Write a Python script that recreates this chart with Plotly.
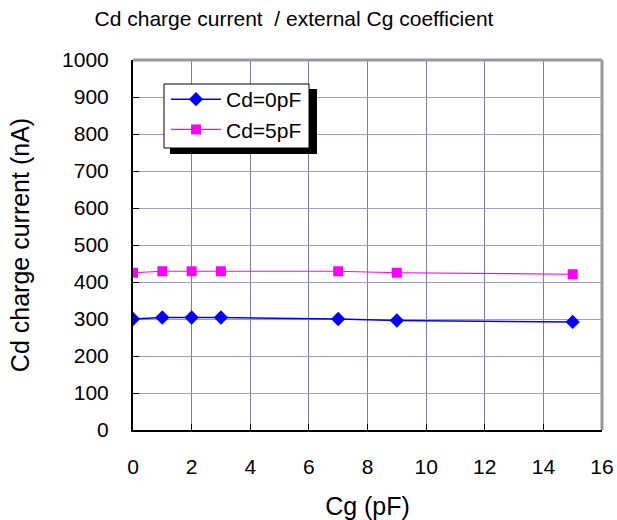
import plotly.graph_objects as go

cg = [0, 1, 2, 3, 7, 9, 15]
cd0 = [300, 304, 304, 304, 300, 296, 292]
cd5 = [425, 429, 429, 429, 429, 425, 421]
series_names = ["Cd=0pF", "Cd=5pF"]

FONT = "Liberation Sans, Arial, sans-serif"

W, H = 617, 520
# plot-area edges in window pixels
PL, PR, PT, PB = 133, 602, 60, 430
L, R, T, B = PL, W - PR, PT, H - PB
PW, PH = W - L - R, H - T - B

def px(xs):
    return (xs - L) / PW

def py(ys):
    return (H - B - ys) / PH

fig = go.Figure()
fig.add_trace(go.Scatter(x=cg, y=cd0, name=series_names[0], mode="lines+markers",
                         line=dict(color="#0000ff", width=1.5),
                         marker=dict(symbol="diamond", size=11, color="#0000ff")))
fig.add_trace(go.Scatter(x=cg, y=cd5, name=series_names[1], mode="lines+markers",
                         line=dict(color="#ff00ff", width=1.2),
                         marker=dict(symbol="square", size=10, color="#ff00ff")))

fig.update_layout(
    width=W, height=H,
    margin=dict(l=L, r=R, t=T, b=B, autoexpand=False),
    paper_bgcolor="white", plot_bgcolor="white",
    font=dict(family=FONT, size=21, color="black"),
    title=dict(text="Cd charge current  / external Cg coefficient",
               x=294 / W, xanchor="center", y=1 - 19 / H, yanchor="middle",
               font=dict(size=21), automargin=False),
    showlegend=True,
    legend=dict(x=px(166), y=py(79), xanchor="left", yanchor="top",
                bgcolor="rgba(0,0,0,0)", borderwidth=0,
                font=dict(size=21), itemwidth=50, tracegroupgap=0),
    xaxis=dict(range=[0, 16], dtick=2, showgrid=True, gridcolor="#7c7cb4", gridwidth=1,
               showline=True, linecolor="black", linewidth=2, ticks="inside",
               ticklen=6, tickcolor="black", ticklabelstandoff=17, zeroline=False,
               automargin=False, ticklabeloverflow="allow",
               title=dict(text="Cg (pF)", standoff=22), tickfont=dict(size=21)),
    yaxis=dict(range=[0, 1000], dtick=100, showgrid=True, gridcolor="#9c9cc8", gridwidth=1,
               showline=True, linecolor="black", linewidth=2, ticks="inside",
               ticklen=6, tickcolor="black", ticklabelstandoff=18, zeroline=False,
               automargin=False, ticklabeloverflow="allow",
               title=dict(text="Cd charge current (nA)", standoff=25), tickfont=dict(size=21)),
    shapes=[
        dict(type="line", xref="paper", yref="paper", x0=0, x1=1, y0=1, y1=1,
             line=dict(color="#999999", width=3)),
        dict(type="line", xref="paper", yref="paper", x0=1, x1=1, y0=0, y1=1,
             line=dict(color="#999999", width=3)),
        # legend shadow
        dict(type="rect", xref="paper", yref="paper", layer="above",
             x0=px(170), x1=px(317), y0=py(154), y1=py(89),
             fillcolor="black", line=dict(width=0)),
        # legend box
        dict(type="rect", xref="paper", yref="paper", layer="above",
             x0=px(164), x1=px(309), y0=py(148), y1=py(84),
             fillcolor="white", line=dict(color="black", width=1)),
    ],
)
fig.write_html("out.html", config={"displayModeBar": False},
               post_script="document.body.style.margin='0';")
